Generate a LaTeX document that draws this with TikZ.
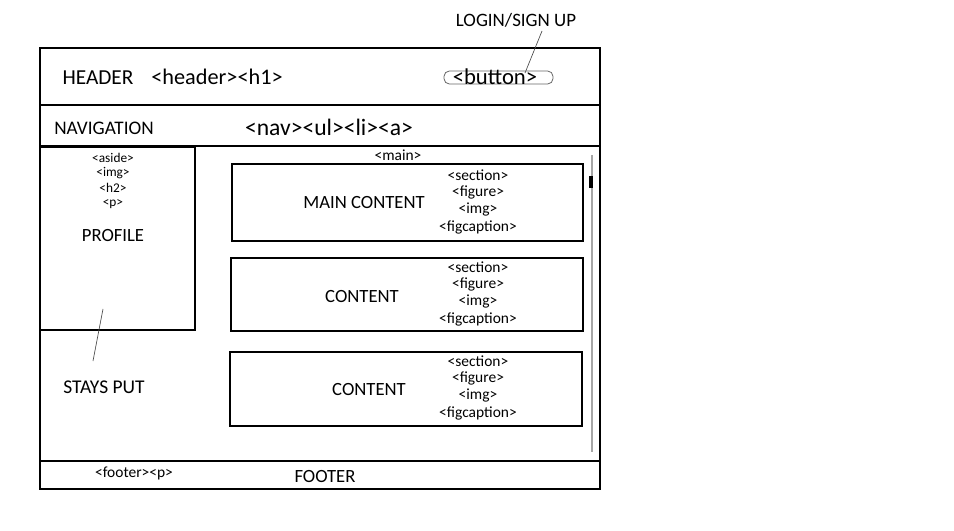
\documentclass[tikz,border=0pt]{standalone}
\usepackage{fontspec}
\setmainfont{Carlito}
\begin{document}
\begin{tikzpicture}[x=0.75pt,y=-0.75pt,
  big/.style={font=\fontsize{14}{16}\selectfont, inner sep=0pt},
  bigtag/.style={font=\fontsize{17}{19}\selectfont, inner sep=0pt},
  tag/.style={font=\fontsize{11.6}{13}\selectfont, inner sep=0pt},
  tiny/.style={font=\fontsize{10}{11}\selectfont, inner sep=0pt},
  frame/.style={draw, line width=2.2pt},
  sep/.style={draw, line width=1.5pt},
  box/.style={draw, line width=1.5pt},
  pointer/.style={draw, line width=0.5pt, black!70}]
\useasboundingbox (0,0) rectangle (954,531);
% outer frame and separators
\draw[frame] (40,48) rectangle (600,489);
\draw[sep] (40,105.5) -- (600,105.5);
\draw[sep] (40,146.5) -- (600,146.5);
\draw[sep] (40,461) -- (600,461);
% aside
\draw[box] (40,147) rectangle (195,330);
% content boxes
\draw[box] (232,164) rectangle (583,241);
\draw[box] (231,258) rectangle (583,331);
\draw[box] (230,352) rectangle (582,426);
% scrollbar
\draw[line width=1pt, black!35] (592,155) -- (592,452);
\fill[black] (589,176) rectangle (592.5,188);
% header
\node[big, font=\fontsize{16}{18}\selectfont] (hdr) at (98,78) {HEADER};
\node[bigtag, font=\fontsize{16.7}{18}\selectfont] (hdrtag) at (217,77) {<header><h1>};
\draw[black!60, line width=0.6pt, rounded corners=4pt] (444,71) rectangle (553,84);
\node[bigtag] (btn) at (495,77) {<button>};
\node[big, font=\fontsize{14.2}{16}\selectfont] (login) at (516,20) {LOGIN/SIGN UP};
\coordinate (loginend) at (542,31);
\coordinate (btnend) at (525,73);
\draw[pointer] (loginend) -- (btnend);
% nav
\node[big, font=\fontsize{14.4}{16}\selectfont] (nav) at (104,128) {NAVIGATION};
\node[bigtag, font=\fontsize{17.7}{19}\selectfont] (navtag) at (329,127) {<nav><ul><li><a>};
% main
\node[tag] (main) at (398,155) {<main>};
% aside texts
\node[tiny] (a1) at (113,158) {<aside>};
\node[tiny] (a2) at (113,173) {<img>};
\node[tiny] (a3) at (113,188) {<h2>};
\node[tiny] (a4) at (113,204) {<p>};
\node[big] (profile) at (113,236) {PROFILE};
\node[big, font=\fontsize{14.6}{16}\selectfont] (stays) at (104,387) {STAYS PUT};
\coordinate (s1) at (103,309);
\coordinate (s2) at (93,361);
\draw[pointer] (s1) -- (s2);
% content 1
\node[big] (mc) at (364,203) {MAIN CONTENT};
\node[tag] (m1) at (478,175) {<section>};
\node[tag] (m2) at (478,192) {<figure>};
\node[tag] (m3) at (478,210) {<img>};
\node[tag] (m4) at (478,227) {<figcaption>};
% content 2
\node[big] (c2) at (362,297) {CONTENT};
\node[tag] (n1) at (478,267) {<section>};
\node[tag] (n2) at (478,284) {<figure>};
\node[tag] (n3) at (478,302) {<img>};
\node[tag] (n4) at (478,319) {<figcaption>};
% content 3
\node[big] (c3) at (369,390) {CONTENT};
\node[tag] (p1) at (478,361) {<section>};
\node[tag] (p2) at (478,378) {<figure>};
\node[tag] (p3) at (478,396) {<img>};
\node[tag] (p4) at (478,413) {<figcaption>};
% footer
\node[tag] (ftag) at (134,473) {<footer><p>};
\node[big] (footer) at (325,477) {FOOTER};
\end{tikzpicture}
\end{document}
